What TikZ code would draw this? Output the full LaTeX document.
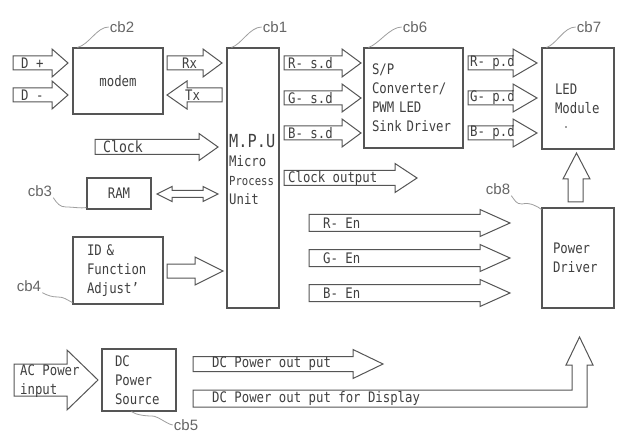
\documentclass[tikz,border=0pt]{standalone}
\usepackage{fontspec}
\setmainfont[FakeStretch=0.85]{DejaVu Sans Mono}
\newfontfamily\cbfont{Liberation Sans}
\usetikzlibrary{positioning}
\usepackage{xcolor}
\definecolor{ink}{HTML}{555555}
\definecolor{txt}{HTML}{404040}
\definecolor{cbgray}{HTML}{666666}

% block arrow: tail, head base, tip, y, half shaft, half head
\newcommand{\barrow}[6]{%
  \draw[blk] (#1,#4-#5) -- (#2,#4-#5) -- (#2,#4-#6) -- (#3,#4)
    -- (#2,#4+#6) -- (#2,#4+#5) -- (#1,#4+#5) -- cycle;}

\begin{document}
\begin{tikzpicture}[x=1pt,y=-1pt,node distance=35pt,
  box/.style={draw=ink, line width=1.1pt, text=txt, inner sep=0pt,
    font=\fontsize{14.5}{19}\selectfont},
  blk/.style={draw=ink, line width=1pt, fill=white},
  lbl/.style={text=txt, inner sep=0pt, font=\fontsize{14.5}{19}\selectfont},
  cb/.style={text=cbgray, inner sep=1pt, font=\cbfont\fontsize{15}{15}\selectfont},
  lead/.style={draw=gray!75, line width=0.8pt}]
  \fill[white] (0,0) rectangle (617,435);
  \useasboundingbox (0,0) rectangle (617,435);

  % blocks
  \node (modem) [box, minimum width=90pt, minimum height=66pt] at (118,81) {modem};
  \node (mpu)   [box, minimum width=52pt, minimum height=260pt] at (253,178) {};
  \node (mputxt) [lbl, align=left, anchor=west] at (229,170)
    {{\fontsize{18}{20}\selectfont M.P.U}\\Micro\\{\fontsize{12.5}{19}\selectfont Process}\\Unit};
  \node (ram)   [box, minimum width=64pt, minimum height=31pt] at (119,193.5) {RAM};
  \node (idf)   [box, minimum width=90pt, minimum height=67pt, text width=62pt, align=left]
    at (118,270.5) {ID \&\\Function\\Adjust\char"27};
  \node (dcs)   [box, minimum width=74pt, minimum height=62pt, text width=48pt, align=left]
    at (139,380) {DC\\Power\\Source};
  \node (spc)   [box, minimum width=99pt, minimum height=100pt, text width=83pt, align=left]
    at (413.5,98) {S/P\\Converter/\\PWM LED\\Sink Driver};
  \node (led)   [box, minimum width=72pt, minimum height=101pt, text width=46pt, align=left]
    at (578,98.5) {LED\\Module};
  \fill[txt] (566,127) circle (0.8pt);
  \node (pwr)   [box, minimum width=72pt, minimum height=100pt, text width=50pt, align=left]
    at (578,258) {Power\\Driver};

  % block arrows
  \barrow{13}{52}{68}{63}{7}{14}
  \barrow{13}{52}{68}{95}{7}{14}
  \barrow{167}{203}{222}{63}{7}{14}
  \barrow{222}{187}{167}{95}{7}{14}
  \barrow{95}{199}{218}{147}{7.5}{13.5}
  \barrow{167}{195}{223}{271}{7}{14}
  \draw[blk] (157,194) -- (172,186.5) -- (172,190.5) -- (203,190.5) -- (203,186.5)
    -- (218,194) -- (203,201.5) -- (203,197.5) -- (172,197.5) -- (172,201.5) -- cycle;
  \barrow{284}{342}{361}{63}{7}{14}
  \barrow{284}{342}{361}{98}{7}{14}
  \barrow{284}{342}{361}{133}{7}{14}
  \barrow{284}{395}{417}{178}{7.5}{14.5}
  \barrow{468}{513}{537}{63}{7}{14}
  \barrow{468}{513}{537}{98}{7}{14}
  \barrow{468}{513}{537}{133}{7}{14}
  \barrow{309}{480}{510}{223}{8.5}{13.5}
  \barrow{309}{480}{510}{258}{8.5}{13.5}
  \barrow{309}{480}{510}{293}{8.5}{13.5}
  \draw[blk] (568,202) -- (568,179) -- (563,179) -- (576.5,153) -- (590,179)
    -- (583,179) -- (583,202) -- cycle;
  \barrow{14}{67}{98}{380}{16}{30}
  \barrow{193}{353}{383}{364}{7.5}{14.5}
  \draw[blk] (193,390) -- (572,390) -- (572,365) -- (566,365) -- (579.5,337)
    -- (593,365) -- (587,365) -- (587,407) -- (193,407) -- cycle;

  % arrow texts
  \node (dplus)  [lbl, anchor=west] at (21,63) {D +};
  \node (dminus) [lbl, anchor=west] at (21,95) {D -};
  \node (rx)     [lbl, anchor=west] at (182,63) {Rx};
  \node (tx)     [lbl, anchor=west] at (185,95) {Tx};
  \node (clk)    [lbl, anchor=west, font=\fontsize{15.5}{19}\selectfont] at (103,147) {Clock};
  \node (rsd)    [lbl, anchor=west] at (288,63) {R- s.d};
  \node (gsd)    [lbl, below of=rsd] {G- s.d};
  \node (bsd)    [lbl, below of=gsd] {B- s.d};
  \node (clkout) [lbl, anchor=west] at (288,178) {Clock output};
  \node (rpd)    [lbl, anchor=west] at (470,63) {R- p.d};
  \node (gpd)    [lbl, below of=rpd] {G- p.d};
  \node (bpd)    [lbl, below of=gpd] {B- p.d};
  \node (ren)    [lbl, anchor=west] at (323,223) {R- En};
  \node (gen)    [lbl, below of=ren] {G- En};
  \node (ben)    [lbl, below of=gen] {B- En};
  \node (acin)   [lbl, anchor=west, align=left] at (20,381) {AC Power\\input};
  \node (dcout)  [lbl, anchor=west] at (212,364) {DC Power out put};
  \node (dcdisp) [lbl, anchor=west] at (212,398) {DC Power out put for Display};

  % reference labels
  \node (cb1) [cb] at (275,27) {cb1};
  \node (cb2) [cb] at (122,27) {cb2};
  \node (cb3) [cb] at (40,191) {cb3};
  \node (cb4) [cb] at (29,286) {cb4};
  \node (cb5) [cb] at (186,425) {cb5};
  \node (cb6) [cb] at (415,27) {cb6};
  \node (cb7) [cb] at (589,27) {cb7};
  \node (cb8) [cb] at (498,189) {cb8};
  \draw[lead] (cb1.west) .. controls +(-12,0) and +(10,-3) .. ([xshift=5pt]mpu.north west);
  \draw[lead] (cb2.west) .. controls +(-12,0) and +(12,-3) .. ([xshift=5pt]modem.north west);
  \draw[lead] (cb6.west) .. controls +(-12,0) and +(10,-3) .. ([xshift=5pt]spc.north west);
  \draw[lead] (cb7.west) .. controls +(-12,0) and +(10,-3) .. ([xshift=5pt]led.north west);
  \draw[lead] (cb3.south east) .. controls +(4,6) and +(-6,0) .. (66,207)
    .. controls +(8,0) and +(-6,1) .. ([yshift=2pt]ram.south west);
  \draw[lead] (cb4.south east) .. controls +(6,3) and +(-6,0) .. (58,297)
    .. controls +(6,0) and +(-6,-3) .. ([yshift=2pt]idf.south west);
  \draw[lead] (cb5.west) .. controls +(-6,-1) and +(6,0) .. (152,416)
    .. controls +(-8,0) and +(4,3) .. ([xshift=30pt]dcs.south west);
  \draw[lead] (cb8.south east) .. controls +(4,5) and +(-6,0) .. (522,204)
    .. controls +(8,-2) and +(-4,-3) .. ([yshift=-2pt]pwr.north west);
\end{tikzpicture}
\end{document}
